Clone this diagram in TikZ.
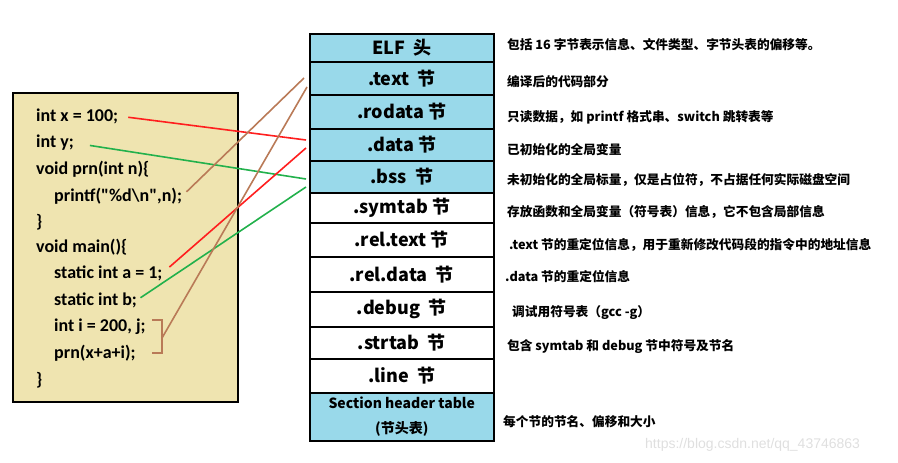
\documentclass[tikz,border=0pt]{standalone}
\usepackage{fontspec}
\setmainfont{Carlito}
\newfontfamily\cjk{Noto Sans CJK SC}
\newfontfamily\wmfont{Liberation Sans}
\usepackage{xcolor}
\usetikzlibrary{positioning}
\definecolor{secblue}{HTML}{99D9EA}
\definecolor{codetan}{HTML}{EFE4B0}
\definecolor{linkred}{HTML}{FF1E1E}
\definecolor{linkgreen}{HTML}{22B14C}
\definecolor{linkbrown}{HTML}{B97A57}
\tikzset{
sec/.style={draw, line width=1.5pt, minimum width=184pt, inner sep=0pt, anchor=north west, font=\cjk\bfseries\fontsize{18}{18}\selectfont},
blue sec/.style={sec, fill=secblue},
code/.style={anchor=west, inner sep=0pt, font=\bfseries\fontsize{18}{18}\selectfont},
note/.style={anchor=west, inner sep=0pt, font=\cjk\bfseries\fontsize{12.7}{12.7}\selectfont},
link/.style={line width=1.6pt}
}

\begin{document}
\begin{tikzpicture}[x=1pt, y=-1pt]
\useasboundingbox (0,0) rectangle (898,463);
\node[draw, fill=codetan, line width=1.5pt, minimum width=225pt, minimum height=309pt, anchor=north west] (codebox) at (12,92) {};
\node[blue sec, minimum height=28pt] (elf) at (309,33) {ELF\ \ 头};
\node[blue sec, minimum height=33pt] (text) at (309,61) {.text\ \ 节};
\node[blue sec, minimum height=34pt] (rodata) at (309,94) {.rodata 节};
\node[blue sec, minimum height=32pt] (data) at (309,128) {.data 节};
\node[blue sec, minimum height=32pt] (bss) at (309,160) {.bss\ \ 节};
\node[sec, minimum height=30pt] (symtab) at (309,192) {.symtab 节};
\node[sec, minimum height=34pt] (reltext) at (309,222) {.rel.text 节};
\node[sec, minimum height=35pt] (reldata) at (309,256) {.rel.data\ \ 节};
\node[sec, minimum height=35pt] (debug) at (309,291) {.debug\ \ 节};
\node[sec, minimum height=32pt] (strtab) at (309,326) {.strtab\ \ 节};
\node[sec, minimum height=34pt] (line) at (309,358) {.line\ \ 节};
\node[blue sec, minimum height=48pt, align=center, font=\cjk\bfseries\fontsize{14}{25}\selectfont] (sht) at (309,392) {Section header table\\(节头表)};
\node[code] (lx) at (36,116) {int x = 100;};
\node[code] (ly) at (36,143) {int y;};
\node[code] (lprn) at (36,169) {void prn(int n)\{};
\node[code] (lprintf) at (54,196) {printf(\textquotedbl\%d\textbackslash n\textquotedbl,n);};
\node[code] (lendprn) at (36,222) {\}};
\node[code] (lmain) at (36,247) {void main()\{};
\node[code] (la) at (54,273) {static int a = 1;};
\node[code] (lb) at (54,300) {static int b;};
\node[code] (li) at (54,327) {int i = 200, j;};
\node[code] (lcall) at (54,353) {prn(x+a+i);};
\node[code] (lendmain) at (36,380) {\}};
\coordinate (textA) at (304,78);
\coordinate (textB) at (307,87);
\coordinate (dataA) at (306,140);
\coordinate (dataB) at (306,148);
\coordinate (bssA) at (306,179);
\coordinate (bssB) at (306,187);
\coordinate (brk) at (162,338);
\draw[link, linkbrown] (152,320) -- (162,320) -- (162,353) -- (152,353);
\draw[link, linkred, shorten <=10pt] (lx.east) -- (dataA);
\draw[link, linkgreen, shorten <=16pt] (ly.east) -- (bssA);
\draw[link, linkbrown, shorten <=6pt] (lprintf.east) -- (textA);
\draw[link, linkred, shorten <=9pt] (la.east) -- (dataB);
\draw[link, linkgreen, shorten <=4pt] (lb.east) -- (bssB);
\draw[link, linkbrown] (brk) -- (textB);
\node[note] (nelf) at (507,45) {包括 16 字节表示信息、文件类型、字节头表的偏移等。};
\node[note] (ntext) at (507,82) {编译后的代码部分};
\node[note] (nrodata) at (507,117) {只读数据，如 printf 格式串、switch 跳转表等};
\node[note] (ndata) at (507,150) {已初始化的全局变量};
\node[note] (nbss) at (507,180) {未初始化的全局标量，仅是占位符，不占据任何实际磁盘空间};
\node[note] (nsymtab) at (507,212) {存放函数和全局变量（符号表）信息，它不包含局部信息};
\node[note] (nreltext) at (509,245) {.text 节的重定位信息，用于重新修改代码段的指令中的地址信息};
\node[note] (nreldata) at (505,277) {.data 节的重定位信息};
\node[note] (ndebug) at (512,313) {调试用符号表（gcc -g）};
\node[note] (nstrtab) at (507,347) {包含 symtab 和 debug 节中符号及节名};
\node[note] (nsht) at (503,422) {每个节的节名、偏移和大小};
\node[anchor=west, inner sep=0pt, text=gray!25, font=\wmfont\fontsize{14}{14}\selectfont] (mark) at (645,445) {https://blog.csdn.net/qq\_43746863};
\end{tikzpicture}
\end{document}
